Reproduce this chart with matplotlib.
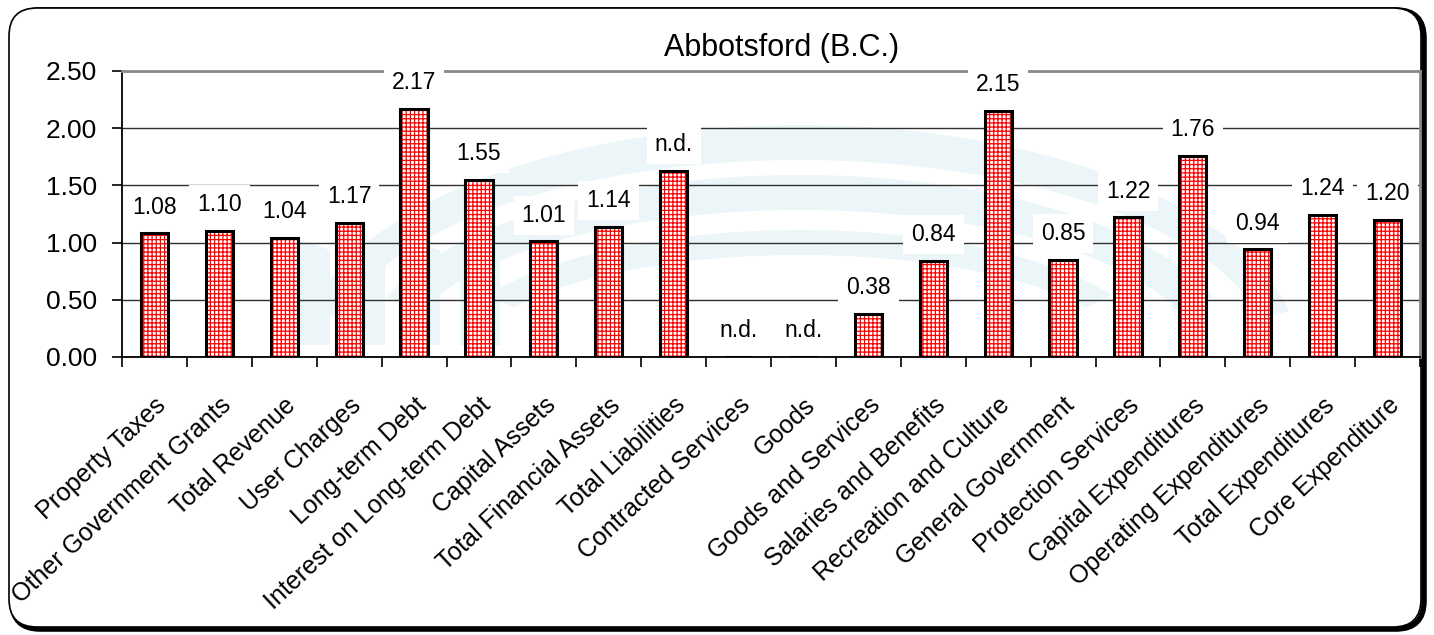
import numpy as np
import matplotlib
matplotlib.use("Agg")
from matplotlib import pyplot as plt
from matplotlib.patches import FancyBboxPatch, Polygon
from matplotlib.transforms import IdentityTransform

plt.rcParams['font.family'] = ['Liberation Sans', 'DejaVu Sans']
plt.rcParams['hatch.linewidth'] = 0.9

# Data
categories = ["Property Taxes", "Other Government Grants", "Total Revenue", "User Charges",
              "Long-term Debt", "Interest on Long-term Debt", "Capital Assets",
              "Total Financial Assets", "Total Liabilities", "Contracted Services", "Goods",
              "Goods and Services", "Salaries and Benefits", "Recreation and Culture",
              "General Government", "Protection Services", "Capital Expenditures",
              "Operating Expenditures", "Total Expenditures", "Core Expenditure"]
values = [1.08, 1.10, 1.04, 1.17, 2.17, 1.55, 1.01, 1.14, 1.63, 0.0, 0.0,
          0.38, 0.84, 2.15, 0.85, 1.22, 1.76, 0.94, 1.24, 1.20]
labels = ["1.08", "1.10", "1.04", "1.17", "2.17", "1.55", "1.01", "1.14", "n.d.", "n.d.", "n.d.",
          "0.38", "0.84", "2.15", "0.85", "1.22", "1.76", "0.94", "1.24", "1.20"]
yticks = [0.0, 0.5, 1.0, 1.5, 2.0, 2.5]

W, H = 1434, 635
fig = plt.figure(figsize=(W / 100, H / 100), dpi=100)
fig.patch.set_facecolor("white")
px = IdentityTransform()

# rounded frame round the whole chart (pixel coords), heavier on right/bottom
shadow = FancyBboxPatch((12, 6), W - 22, H - 16, boxstyle="round,pad=0,rounding_size=28",
                        transform=px, fc="none", ec="black", lw=4, zorder=0)
frame = FancyBboxPatch((9, 8), W - 22, H - 16, boxstyle="round,pad=0,rounding_size=28",
                       transform=px, fc="white", ec="black", lw=1.2, zorder=0)
fig.patches.extend([shadow, frame])

# faint logo swoosh behind the plot
def band(cx, cy, rx_out, ry_out, rx_in, ry_in, a0, a1):
    t = np.radians(np.linspace(a0, a1, 80))
    outer = np.c_[cx + rx_out * np.cos(t), cy + ry_out * np.sin(t)]
    inner = np.c_[cx + rx_in * np.cos(t[::-1]), cy + ry_in * np.sin(t[::-1])]
    return np.vstack([outer, inner])

logo = "#ecf6f8"
for pts in [band(800, H - 360, 500, 235, 470, 200, 12, 168),
            band(800, H - 360, 440, 185, 400, 150, 20, 160),
            band(800, H - 360, 360, 130, 330, 105, 30, 150)]:
    fig.patches.append(Polygon(pts, closed=True, transform=px, fc=logo, ec="none", zorder=0.5))
for x0, x1 in [(300, 330), (350, 385), (405, 440), (460, 500)]:
    fig.patches.append(Polygon([(x0, H - 345), (x1, H - 345), (x1, H - 250), (x0, H - 240)],
                               closed=True, transform=px, fc=logo, ec="none", zorder=0.5))

ax = fig.add_axes([122 / W, 1 - 357 / H, 1298 / W, 286 / H])
ax.set_zorder(2)
ax.set_facecolor("none")

x = np.arange(len(categories))
bw = 0.42
# red grid fill, then black outline on top
ax.bar(x, values, width=bw, color="white", edgecolor="red", hatch="++++", lw=0, zorder=3)
ax.bar(x, values, width=bw, fill=False, edgecolor="black", lw=2.2, zorder=4)

for xi, v, lab in zip(x, values, labels):
    ax.annotate(lab, (xi, v), xytext=(0, 19), textcoords="offset points", ha="center", va="center",
                fontsize=16.5, color="black", zorder=5,
                bbox=dict(boxstyle="square,pad=0.35", fc="white", ec="none"))

ax.set_xlim(-0.5, len(categories) - 0.5)
ax.set_ylim(0, 2.5)
ax.set_yticks(yticks)
ax.set_yticklabels(["%.2f" % t for t in yticks], fontsize=19)
ax.yaxis.grid(True, color="#303030", lw=1.0, zorder=1)
ax.set_axisbelow(True)

# category ticks sit between bars, labels at bar centres
ax.set_xticks(np.arange(len(categories) + 1) - 0.5)
ax.set_xticklabels([])
ax.set_xticks(x, minor=True)
ax.set_xticklabels(categories, minor=True, rotation=43, ha="right", va="top",
                   rotation_mode="anchor", fontsize=18)
ax.tick_params(axis="x", which="minor", length=0, pad=26)
ax.tick_params(axis="x", which="major", length=7, width=1.2, direction="out")
ax.tick_params(axis="y", length=7, width=1.2, direction="out", pad=11)

for side in ["left", "bottom"]:
    ax.spines[side].set_color("black")
    ax.spines[side].set_linewidth(1.3)
for side in ["top", "right"]:
    ax.spines[side].set_color("#8a8a8a")
    ax.spines[side].set_linewidth(2)

fig.text(782 / W, 1 - 48 / H, "Abbotsford (B.C.)", ha="center", va="center", fontsize=22)

fig.savefig("out.png", dpi=100, facecolor="white")
